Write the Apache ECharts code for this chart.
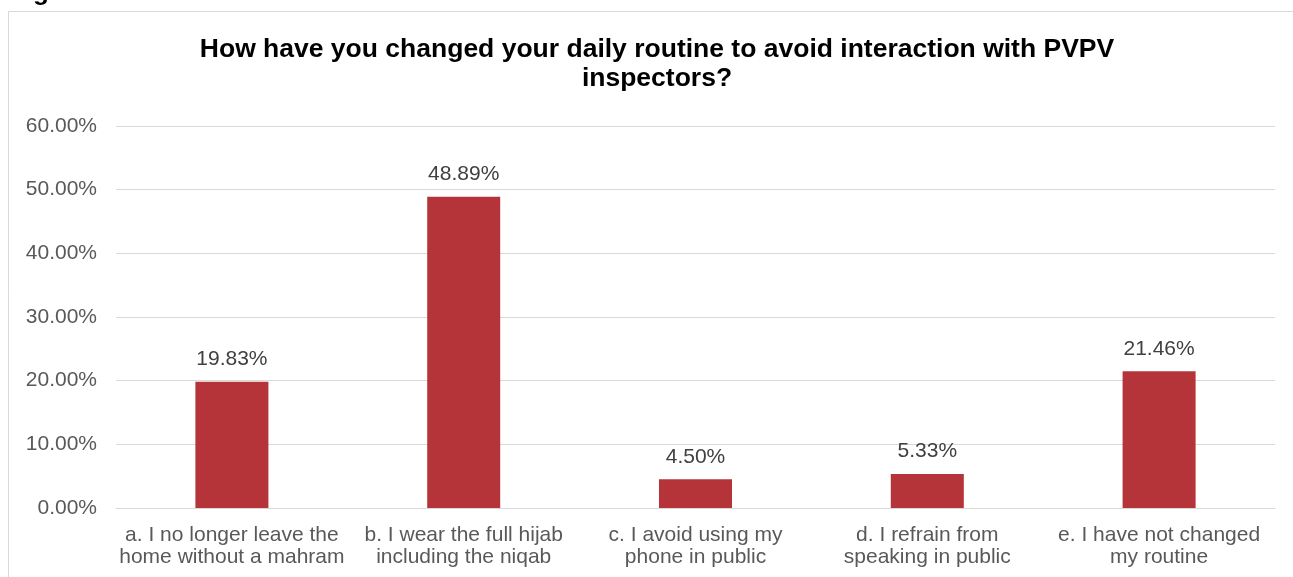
<!DOCTYPE html>
<html>
<head>
<meta charset="utf-8">
<script src="https://cdn.jsdelivr.net/npm/echarts@6/dist/echarts.min.js"></script>
<style>
html,body{margin:0;padding:0;background:#fff;}
#chart{width:1293px;height:577px;}
</style>
</head>
<body>
<div id="chart"></div>
<script>
var titleText = 'How have you changed your daily routine to avoid interaction with PVPV\ninspectors?';
var categories = [
  'a. I no longer leave the\nhome without a mahram',
  'b. I wear the full hijab\nincluding the niqab',
  'c. I avoid using my\nphone in public',
  'd. I refrain from\nspeaking in public',
  'e. I have not changed\nmy routine'
];
var values = [19.83, 48.89, 4.50, 5.33, 21.46];
var yTicks = {min: 0, max: 60, interval: 10};

var chart = echarts.init(document.getElementById('chart'), null, {renderer: 'canvas'});
var font = '"Liberation Sans", Arial, sans-serif';
chart.setOption({
  animation: false,
  backgroundColor: '#ffffff',
  graphic: [
    {type: 'rect', shape: {x: 8.5, y: 11.5, width: 1400, height: 700}, style: {fill: 'none', stroke: '#D9D9D9', lineWidth: 1}, silent: true},
    {type: 'text', x: 10, y: -20, style: {text: 'Figure', font: 'bold 26px ' + font, fill: '#000', verticalAlign: 'top'}},
    {type: 'text', x: 657, y: 35, style: {text: titleText, font: 'bold 26.5px ' + font, fill: '#000', align: 'center', textAlign: 'center', verticalAlign: 'top', lineHeight: 29}}
  ],
  grid: {left: 116, right: 18, top: 126, bottom: 69, containLabel: false},
  xAxis: {
    type: 'category',
    data: categories,
    axisLine: {lineStyle: {color: '#D9D9D9', width: 1}},
    axisTick: {show: false},
    axisLabel: {interval: 0, fontFamily: font, fontSize: 21, color: '#595959', lineHeight: 22, margin: 16}
  },
  yAxis: {
    type: 'value',
    min: yTicks.min, max: yTicks.max, interval: yTicks.interval,
    axisLine: {show: false},
    axisTick: {show: false},
    splitLine: {lineStyle: {color: '#D9D9D9', width: 1}},
    axisLabel: {fontFamily: font, fontSize: 21, color: '#595959', margin: 19,
      formatter: function (v) { return v.toFixed(2) + '%'; }}
  },
  series: [{
    type: 'bar',
    data: values,
    barWidth: '31.5%',
    itemStyle: {color: '#B5343A'},
    label: {show: true, position: 'top', distance: 12, fontFamily: font, fontSize: 21, color: '#404040',
      formatter: function (p) { return p.value.toFixed(2) + '%'; }}
  }]
});
</script>
</body>
</html>
